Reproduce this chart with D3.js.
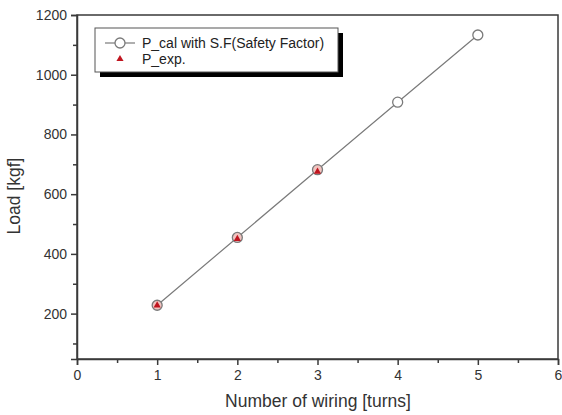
<!DOCTYPE html>
<html>
<head>
<meta charset="utf-8">
<script src="https://cdn.jsdelivr.net/npm/d3@7"></script>
<style>
  body { margin: 0; background: #fff; }
  svg { font-family: "Liberation Sans", Arial, sans-serif; }
</style>
</head>
<body>
<svg width="562" height="415"></svg>
<script>
// data
const turns = [1, 2, 3, 4, 5];
const pCal = [228, 455, 682, 908, 1133];
const expTurns = [1, 2, 3];
const pExp = [229, 452, 677];
const xTicks = [0, 1, 2, 3, 4, 5, 6];
const yTicks = [200, 400, 600, 800, 1000, 1200];

const svg = d3.select("svg");
const m = {top: 15, left: 77};
const g = svg.append("g").attr("transform", `translate(${m.left},${m.top})`);

const x = d3.scaleLinear().domain([0, 6]).range([0, 481]);
const y = d3.scaleLinear().domain([48, 1200]).range([344, 0]);

const axisCol = "#3a3a3a";

// frame
g.append("rect")
    .attr("width", x(6)).attr("height", y(48))
    .attr("fill", "none").attr("stroke", axisCol).attr("stroke-width", 1.5);

// x axis
g.append("g").attr("transform", `translate(0,${y(48)})`)
    .call(d3.axisBottom(x).tickValues(xTicks).tickFormat(d3.format("d")).tickSize(6).tickPadding(5));
g.append("g").attr("transform", `translate(0,${y(48)})`)
    .call(d3.axisBottom(x).tickValues(d3.range(0.5, 6, 1)).tickFormat("").tickSize(4))
    .select(".domain").remove();

// y axis
g.append("g")
    .call(d3.axisLeft(y).tickValues(yTicks).tickFormat(d3.format("d")).tickSize(6).tickPadding(4));
g.append("g")
    .call(d3.axisLeft(y).tickValues(d3.range(100, 1200, 200)).tickFormat("").tickSize(4))
    .select(".domain").remove();

g.selectAll(".tick line").attr("stroke", axisCol).attr("stroke-width", 1.5);
g.selectAll(".domain").attr("stroke", axisCol).attr("stroke-width", 1.5);
g.selectAll(".tick text").attr("fill", "#333").style("font-size", "14px")
    .style("font-family", "Liberation Sans, Arial, sans-serif");

// axis labels
svg.append("text")
    .attr("x", 318).attr("y", 407)
    .attr("text-anchor", "middle").attr("fill", "#333")
    .style("font-size", "17.5px")
    .text("Number of wiring [turns]");
svg.append("text")
    .attr("transform", "translate(20,196) rotate(-90)")
    .attr("text-anchor", "middle").attr("fill", "#333")
    .style("font-size", "17.5px")
    .text("Load [kgf]");

// line
const calPts = turns.map((t, i) => [t, pCal[i]]);
g.append("path")
    .datum(calPts)
    .attr("d", d3.line().x(d => x(d[0])).y(d => y(d[1])))
    .attr("fill", "none").attr("stroke", "#7a7a7a").attr("stroke-width", 1.2);

g.selectAll("circle.cal")
    .data(calPts).enter().append("circle")
    .attr("class", "cal")
    .attr("cx", d => x(d[0])).attr("cy", d => y(d[1]))
    .attr("r", 5)
    .attr("fill", (d, i) => i < 3 ? "#f2c4c0" : "#fff")
    .attr("stroke", "#7a7a7a").attr("stroke-width", 1.3);

const tri = d3.symbol().type(d3.symbolTriangle).size(22);
g.selectAll("path.exp")
    .data(expTurns.map((t, i) => [t, pExp[i]])).enter().append("path")
    .attr("class", "exp")
    .attr("d", tri)
    .attr("transform", d => `translate(${x(d[0])},${y(d[1]) + 0.5})`)
    .attr("fill", "#c0151f");

// legend
const lg = svg.append("g");
lg.append("rect").attr("x", 100).attr("y", 33).attr("width", 243).attr("height", 44).attr("fill", "#000");
lg.append("rect").attr("x", 95).attr("y", 28).attr("width", 243).attr("height", 44)
    .attr("fill", "#fff").attr("stroke", "#555").attr("stroke-width", 1);
lg.append("line").attr("x1", 105).attr("x2", 135).attr("y1", 43).attr("y2", 43)
    .attr("stroke", "#7a7a7a").attr("stroke-width", 1.2);
lg.append("circle").attr("cx", 120).attr("cy", 43).attr("r", 5)
    .attr("fill", "#fff").attr("stroke", "#7a7a7a").attr("stroke-width", 1.3);
lg.append("path").attr("d", tri).attr("transform", "translate(120,59)").attr("fill", "#c0151f");
lg.append("text").attr("x", 142).attr("y", 48).attr("fill", "#222")
    .style("font-size", "14px").text("P_cal with S.F(Safety Factor)");
lg.append("text").attr("x", 142).attr("y", 64).attr("fill", "#222")
    .style("font-size", "14px").text("P_exp.");
</script>
</body>
</html>
